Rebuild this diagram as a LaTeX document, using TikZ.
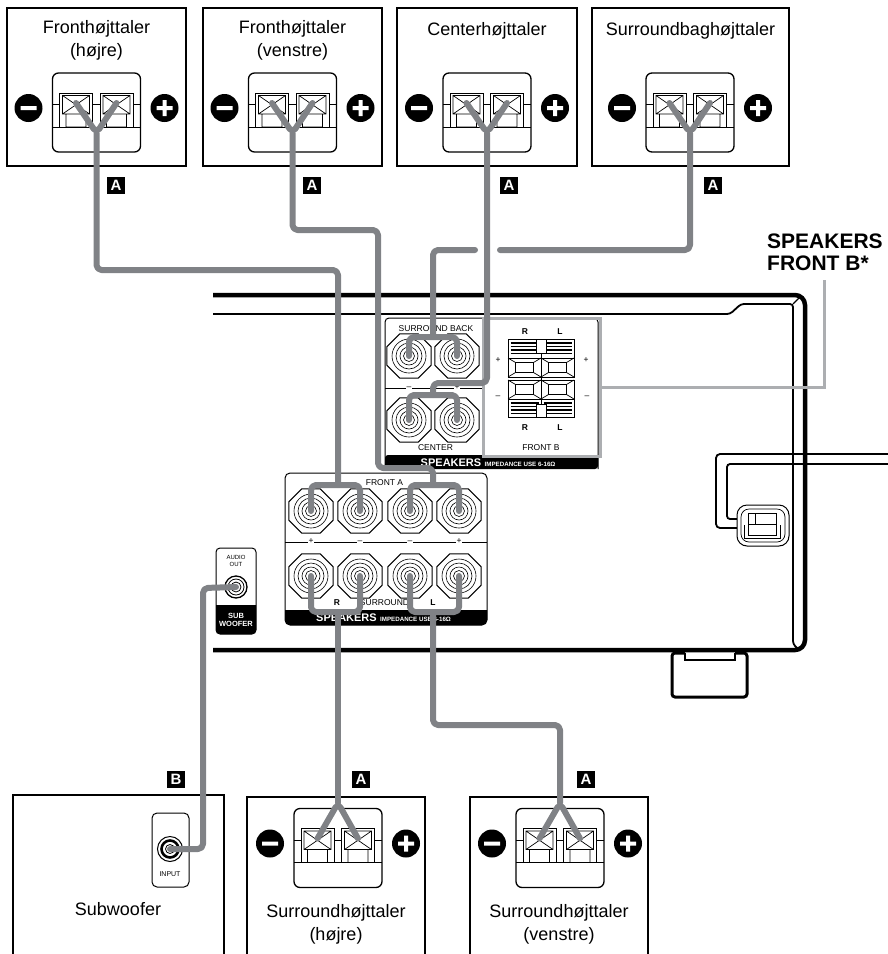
\documentclass[tikz,border=0pt]{standalone}
\usepackage{fontspec}
\setmainfont{Liberation Sans}
\usetikzlibrary{shapes.geometric,positioning,calc}
\definecolor{wiregray}{RGB}{128,130,134}
\definecolor{fbgray}{RGB}{172,174,177}

\begin{document}
\begin{tikzpicture}[x=1pt,y=-1pt,
  spkbox/.style={draw,line width=1.1,inner sep=0,minimum height=158},
  lbl/.style={font=\fontsize{18}{23}\selectfont,align=center,inner sep=0},
  tag/.style={fill=black,text=white,inner sep=0,minimum width=18pt,minimum height=17pt,font=\bfseries\fontsize{15}{15}\selectfont},
  wire/.style={draw=wiregray,line width=6,rounded corners=5,line cap=round,line join=round},
  fbline/.style={draw=fbgray,line width=3},
  post/.style={regular polygon,regular polygon sides=8,minimum size=48,draw,line width=1,inner sep=0,fill=white,
    path picture={\foreach \r in {17,13,9,5.5}
      \draw[line width=0.6] (path picture bounding box.center) circle (\r pt);}},
  jack/.style={circle,draw,line width=1.3,minimum size=22,inner sep=0,fill=white,
    path picture={\draw[line width=0.8] (path picture bounding box.center) circle (8pt) circle (5pt);}},
  jackin/.style={circle,draw,line width=1,minimum size=25,inner sep=0,fill=white,
    path picture={\draw[line width=2.6] (path picture bounding box.center) circle (8.5pt);
      \draw[line width=0.8] (path picture bounding box.center) circle (4.5pt);}},
  ptxt/.style={font=\fontsize{8.5}{9}\selectfont,inner sep=1},
  btxt/.style={text=white,font=\bfseries\fontsize{11}{11}\selectfont,inner sep=0},
  stxt/.style={text=white,font=\bfseries\fontsize{6.2}{6.2}\selectfont,inner sep=0},
  bevel/.pic={
    \draw[line width=0.7,fill=white] (-16.5,-9.5) rectangle (16.5,9.5);
    \draw[line width=0.7] (-9,-5) rectangle (9,5)
      (-16.5,-9.5) -- (-9,-5) (16.5,-9.5) -- (9,-5) (-16.5,9.5) -- (-9,5) (16.5,9.5) -- (9,5);
  },
  spkblock/.pic={
    \draw[line width=1.3,rounded corners=6] (-44,-39.5) rectangle (44,39.5);
    \draw[line width=0.8] (-44,-8) -- (44,-8) (-44,14.5) -- (44,14.5);
    \foreach \tx in {-20.5,20}{
      \draw[line width=1,fill=white] (\tx-16.5,-19.5) rectangle (\tx+16.5,14.5);
      \draw[line width=0.7] (\tx-13.5,-17) rectangle (\tx+13.5,1.5)
        (\tx-13.5,-17) -- (\tx+13.5,1.5) (\tx-13.5,1.5) -- (\tx+13.5,-17)
        (\tx-10,1.5) rectangle (\tx+10,14.5);}
    \fill (-68,-4.5) circle (14pt) (68,-4.5) circle (14pt);
    \fill[white] (-76,-6.5) rectangle (-60,-2.5) (60,-6.5) rectangle (76,-2.5) (66,-12.5) rectangle (70,3.5);
    \coordinate (-m) at (-20.5,-9.5);
    \coordinate (-p) at (20,-9.5);
    \coordinate (-j) at (0,20.5);
    \coordinate (-u) at (0,-45);
  }]
\useasboundingbox (0,0) rectangle (888,954);

% speakers, top row
\node[spkbox,minimum width=179] (fr) at (96.5,87) {};
\node[spkbox,minimum width=179] (fl) at (292.5,87) {};
\node[spkbox,minimum width=180] (ctr) at (487,87) {};
\node[spkbox,minimum width=197] (sb) at (690.5,87) {};
\node[lbl] at (96.5,40.5) {Fronthøjttaler\\(højre)};
\node[lbl] at (292.5,40.5) {Fronthøjttaler\\(venstre)};
\node[lbl] at (487,31) {Centerhøjttaler};
\node[lbl] at (690.5,31) {Surroundbaghøjttaler};
\pic (f1) at (96.5,112.5) {spkblock};
\pic (f2) at (292.5,112.5) {spkblock};
\pic (f3) at (487,112.5) {spkblock};
\pic (f4) at (690,112.5) {spkblock};

% speakers, bottom row
\draw[line width=1.1] (13,954) -- (13,795) -- (224,795) -- (224,954);
\draw[line width=1.1] (247,954) -- (247,797) -- (425,797) -- (425,954);
\draw[line width=1.1] (470,954) -- (470,797) -- (648,797) -- (648,954);
\node[lbl] at (118,909) {Subwoofer};
\node[lbl] at (336,924) {Surroundhøjttaler\\(højre)};
\node[lbl] at (559,924) {Surroundhøjttaler\\(venstre)};
\pic (s1) at (338,848) {spkblock};
\pic (s2) at (560,848) {spkblock};
\draw[line width=1,rounded corners=5] (152,813) rectangle (189,887);
\node[jackin] (sin) at (170,849) {};
\node[font=\fontsize{7}{7}\selectfont] at (170,874) {INPUT};

% receiver
\draw[line width=4.5,rounded corners=10] (213,295) -- (805,295) -- (805,650) -- (213,650);
\draw[line width=1.8,rounded corners=3] (213,314) -- (730,314) -- (741,304) -- (793,304) -- (793,644) -- (799,650);
\draw[line width=1.2] (793,304) -- (800,297);
\draw[line width=3,rounded corners=3] (685,653) -- (672,653) -- (672,697) -- (747,697) -- (747,653) -- (735,653);
\draw[line width=1.2] (685,653) -- (685,660) -- (735,660) -- (735,653);
\draw[line width=1.8,rounded corners=4] (888,454) -- (716,454) -- (716,528) -- (738,528);
\draw[line width=1.8,rounded corners=3] (888,464) -- (727,464) -- (727,519) -- (738,519);
\draw[line width=1,rounded corners=10,fill=white] (737,505) rectangle (789,546);
\draw[line width=0.7,rounded corners=8] (741,509) rectangle (785,542);
\draw[line width=1] (748,513) rectangle (776,535);
\draw[line width=0.8] (748,524) -- (776,524) (755,513) -- (755,524);
\draw[line width=0.8] (744,525) -- (744,538) -- (780,538) -- (780,525);

% surround back / center panel
\draw[line width=1,rounded corners=4] (385,469) -- (385,318) -- (598,318) -- (598,469);
\fill[rounded corners=3] (385,455) rectangle (598,469);
\node[ptxt] at (436,329) {SURROUND BACK};
\node[post] (sb1) at (409,356) {};
\node[post] (sb2) at (457,356) {};
\draw[line width=0.8] (385,388) -- (483,388);
\node[ptxt,fill=white] at (409,388) {–};
\node[ptxt,fill=white] at (457,387) {+};
\node[post] (ce1) at (409,420) {};
\node[post] (ce2) at (457,420) {};
\node[ptxt] at (435.5,448) {CENTER};
\node[btxt] (spkB) at (451,462.5) {SPEAKERS};
\node[stxt,base right=3pt of spkB] {IMPEDANCE USE 6-16Ω};

% front B
\node[draw=fbgray,line width=3,minimum width=117,minimum height=138,inner sep=0] (fbb) at (541.5,387) {};
\draw[line width=1] (508,339) rectangle (574,377) (508,380) rectangle (574,417) (541,339) -- (541,417);
\foreach \cx in {524.5,557.5}{
  \foreach \sy in {343,346.5,350,353.5}{
    \draw[line width=1.2] (\cx-14,\sy) -- (\cx+14,\sy);
    \draw[line width=1.2] (\cx-14,\sy+60) -- (\cx+14,\sy+60);}
  \pic at (\cx,367.5) {bevel};
  \pic at (\cx,389.5) {bevel};
}
\draw[line width=0.8,fill=white] (536,339) rectangle (546,353) (536,404) rectangle (546,417);
\node[ptxt,font=\bfseries\fontsize{8.5}{9}\selectfont] at (525,332) {R};
\node[ptxt,font=\bfseries\fontsize{8.5}{9}\selectfont] at (560,332) {L};
\node[ptxt,font=\bfseries\fontsize{8.5}{9}\selectfont] at (525,428) {R};
\node[ptxt,font=\bfseries\fontsize{8.5}{9}\selectfont] at (560,428) {L};
\node[ptxt] at (498,360) {+};
\node[ptxt] at (586,360) {+};
\node[ptxt] at (498,397) {–};
\node[ptxt] at (587,397) {–};
\node[ptxt] at (541,448) {FRONT B};
\node[align=left,anchor=west,inner sep=0,font=\bfseries\fontsize{21}{22}\selectfont] (fbl) at (767,252) {SPEAKERS\\FRONT B*};
\draw[fbline,shorten >=9pt] (fbb.east) -| (fbl.south);

% front A / surround panel
\draw[line width=1,rounded corners=5] (285,473) rectangle (487,625);
\fill (285,610) -- (487,610) {[rounded corners=5] -- (487,625) -- (285,625)} -- cycle;
\node[ptxt,font=\bfseries\fontsize{8.5}{9}\selectfont] at (338,483) {R};
\node[ptxt] at (384.5,483) {FRONT A};
\node[ptxt,font=\bfseries\fontsize{8.5}{9}\selectfont] at (433,483) {L};
\node[post] (fa1) at (311,511) {};
\node[post] (fa2) at (360,511) {};
\node[post] (fa3) at (410,511) {};
\node[post] (fa4) at (459,511) {};
\draw[line width=0.8] (285,542) -- (487,542);
\node[ptxt,fill=white] at (311,541) {+};
\node[ptxt,fill=white] at (360,542) {–};
\node[ptxt,fill=white] at (410,542) {–};
\node[ptxt,fill=white] at (459,541) {+};
\node[post] (su1) at (311,576) {};
\node[post] (su2) at (360,576) {};
\node[post] (su3) at (410,576) {};
\node[post] (su4) at (459,576) {};
\node[ptxt,font=\bfseries\fontsize{8.5}{9}\selectfont] at (337,603) {R};
\node[ptxt] at (384.5,603) {SURROUND};
\node[ptxt,font=\bfseries\fontsize{8.5}{9}\selectfont] at (433,603) {L};
\node[btxt] (spkA) at (346.5,617.5) {SPEAKERS};
\node[stxt,base right=3pt of spkA] {IMPEDANCE USE 6-16Ω};

% sub woofer out
\draw[line width=1,rounded corners=4] (216,548) rectangle (256,634);
\fill (216,605) -- (256,605) {[rounded corners=4] -- (256,634) -- (216,634)} -- cycle;
\node[font=\fontsize{6}{6.5}\selectfont,align=center,inner sep=0] at (236,561) {AUDIO\\OUT};
\node[jack] (aout) at (236,587) {};
\node[text=white,font=\bfseries\fontsize{7.5}{8.5}\selectfont,align=center,inner sep=0] at (236,620) {SUB\\WOOFER};

% cables
\coordinate (faRj) at (338,485);
\coordinate (faLj) at (433,485);
\coordinate (sbj) at (433,337);
\coordinate (cej) at (433,395);
\coordinate (suRj) at (338,612);
\coordinate (suLj) at (433,612);
\draw[wire] (f1-m) -- (f1-j) -- (f1-p);
\draw[wire] (f2-m) -- (f2-j) -- (f2-p);
\draw[wire] (f3-m) -- (f3-j) -- (f3-p);
\draw[wire] (f4-m) -- (f4-j) -- (f4-p);
\draw[wire] (f1-j) |- (338,270) -- (faRj);
\draw[wire] (fa1.center) |- (faRj) -| (fa2.center);
\draw[wire] (f2-j) |- (378,230) -- (378,468) -| (faLj);
\draw[wire] (fa3.center) |- (faLj) -| (fa4.center);
\draw[wire] (f3-j) -- (487,383) -| (cej);
\draw[wire] (ce1.center) |- (cej) -| (ce2.center);
\draw[wire] (f4-j) |- (500,250);
\draw[wire] (475,250) -| (sbj);
\draw[wire] (sb1.center) |- (sbj) -| (sb2.center);
\draw[wire] (su1.center) |- (suRj) -| (su2.center);
\draw[wire] (suRj) -- (s1-u);
\draw[wire] (s1-m) -- (s1-u) -- (s1-p);
\draw[wire] (su3.center) |- (suLj) -| (su4.center);
\draw[wire] (suLj) -- (433,725) -| (s2-u);
\draw[wire] (s2-m) -- (s2-u) -- (s2-p);
\draw[wire] (aout.center) -- (203,588) |- (sin.center);

% cable tags
\node[tag] at (116,185) {A};
\node[tag] at (312,185) {A};
\node[tag] at (509,185) {A};
\node[tag] at (713,185) {A};
\node[tag] at (361,779) {A};
\node[tag] at (586,779) {A};
\node[tag] at (176,779) {B};
\end{tikzpicture}
\end{document}
